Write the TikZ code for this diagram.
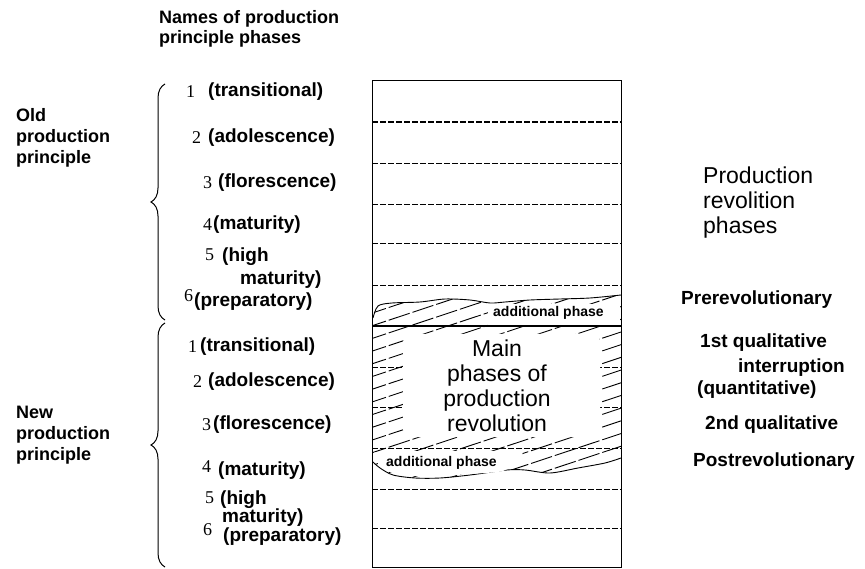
\documentclass[tikz,border=0pt]{standalone}
\usepackage{fontspec}
\setmainfont{Liberation Sans}
\newfontfamily\numfont{Liberation Serif}
\usetikzlibrary{decorations.pathreplacing}
\tikzset{
  phase/.style={anchor=west, inner sep=0pt, font=\bfseries\fontsize{19}{21}\selectfont},
  num/.style={anchor=west, inner sep=0pt, font=\numfont\fontsize{18}{20}\selectfont},
  group/.style={anchor=west, inner sep=0pt, align=left, font=\bfseries\fontsize{18}{21}\selectfont},
  big/.style={inner sep=0pt, align=center, font=\fontsize{23}{25}\selectfont},
  small/.style={anchor=west, inner sep=0pt, font=\bfseries\fontsize{14}{16}\selectfont},
  border/.style={line width=1pt},
  sep/.style={dash pattern=on 6pt off 2pt, line width=0.8pt},
  hatch/.style={line width=0.9pt, dash pattern=on 22pt off 3pt},
  wavy/.style={line width=0.9pt},
  bracebar/.style={decorate, decoration={brace, amplitude=14pt}, line width=1pt},
}
\begin{document}
\begin{tikzpicture}[x=1pt, y=-1pt]
\useasboundingbox (0,0) rectangle (865,569);

% phase table
\foreach \y in {163,204,243,285,367,407,448,489,528}
  \draw[sep] (372,\y) -- (621,\y);
\draw[sep, line width=1.5pt] (372,122) -- (621,122);
\draw[line width=1.5pt] (372,326) -- (621,326);

% hatched band of the revolution
\begin{scope}
\clip plot[smooth] coordinates {(372,318) (378,306) (392,303) (420,302) (445,299) (470,300) (490,303) (505,302) (530,300) (560,299) (590,298) (621,295)}
  -- (621,458)
  -- plot[smooth] coordinates {(621,458) (605,463) (578,468) (550,473) (525,470) (507,470) (470,475) (440,478) (415,478) (393,475) (380,468) (372,462)}
  -- cycle;
\foreach \k in {0,...,23}
  \draw[hatch] (365,290+12.7*\k) -- ++(265,-88);
\end{scope}
\draw[wavy] plot[smooth] coordinates {(373,318) (378,306) (392,303) (420,302) (445,299) (470,300) (490,303) (505,302) (530,300) (560,299) (590,298) (621,295)};
\draw[wavy] plot[smooth] coordinates {(621,458) (605,463) (578,468) (550,473) (525,470) (507,470) (470,475) (440,478) (415,478) (393,475) (380,468) (373,462)};
\fill[white] (488,304) rectangle (620.4,325);
\fill[white, rounded corners=8pt] (403,334) rectangle (600,437);
\fill[white] plot[smooth cycle] coordinates {(378,452) (450,451) (520,452) (512,462) (503,471) (470,474) (440,476) (415,476) (393,473) (380,466) (376,458)};
\draw[border] (372,81) rectangle (621,567.5);

\node[small] (addtop) at (493,313) {additional phase};
\node[small] (addbot) at (386,463) {additional phase};
\node[big] (main) at (497,386) {Main\\phases of\\production\\revolution};

% left side
\node[group, font=\bfseries\fontsize{18}{20}\selectfont] (title) at (159,29) {Names of production\\principle phases};
\node[group] (old) at (16,138) {Old\\production\\principle};
\node[group] (new) at (16,435) {New\\production\\principle};
\coordinate (oldtop) at (165,84);
\coordinate (oldbot) at (165,320);
\coordinate (newtop) at (165,323);
\coordinate (newbot) at (165,567);
\draw[bracebar] (oldbot) -- (oldtop);
\draw[bracebar] (newbot) -- (newtop);

\node[num] (o1n) at (186,92) {1};
\node[phase] (o1) at (208,92) {(transitional)};
\node[num] (o2n) at (192,138) {2};
\node[phase] (o2) at (208,138) {(adolescence)};
\node[num] (o3n) at (203,183) {3};
\node[phase] (o3) at (218,183) {(florescence)};
\node[num] (o4n) at (203,225) {4};
\node[phase] (o4) at (213,225) {(maturity)};
\node[num] (o5n) at (205,255) {5};
\node[phase] (o5) at (222,257) {(high};
\node[phase] (o5b) at (240,280) {maturity)};
\node[num] (o6n) at (184,296) {6};
\node[phase] (o6) at (194,302) {(preparatory)};

\node[num] (n1n) at (188,347) {1};
\node[phase] (n1) at (200,347) {(transitional)};
\node[num] (n2n) at (193,382) {2};
\node[phase] (n2) at (208,382) {(adolescence)};
\node[num] (n3n) at (202,425) {3};
\node[phase] (n3) at (213,425) {(florescence)};
\node[num] (n4n) at (202,467) {4};
\node[phase] (n4) at (218,471) {(maturity)};
\node[num] (n5n) at (205,498) {5};
\node[phase] (n5) at (220,500) {(high};
\node[phase] (n5b) at (222,518) {maturity)};
\node[num] (n6n) at (203,530) {6};
\node[phase] (n6) at (223,537) {(preparatory)};

% right side
\node[big, anchor=west, align=left] (revtitle) at (703,203) {Production\\revolition\\phases};
\node[phase] (pre) at (681,300) {Prerevolutionary};
\node[phase] (q1a) at (700,343) {1st qualitative};
\node[phase] (q1b) at (738,368) {interruption};
\node[phase] (q1c) at (697,390) {(quantitative)};
\node[phase] (q2) at (705,425) {2nd qualitative};
\node[phase] (post) at (693,462) {Postrevolutionary};
\end{tikzpicture}
\end{document}
